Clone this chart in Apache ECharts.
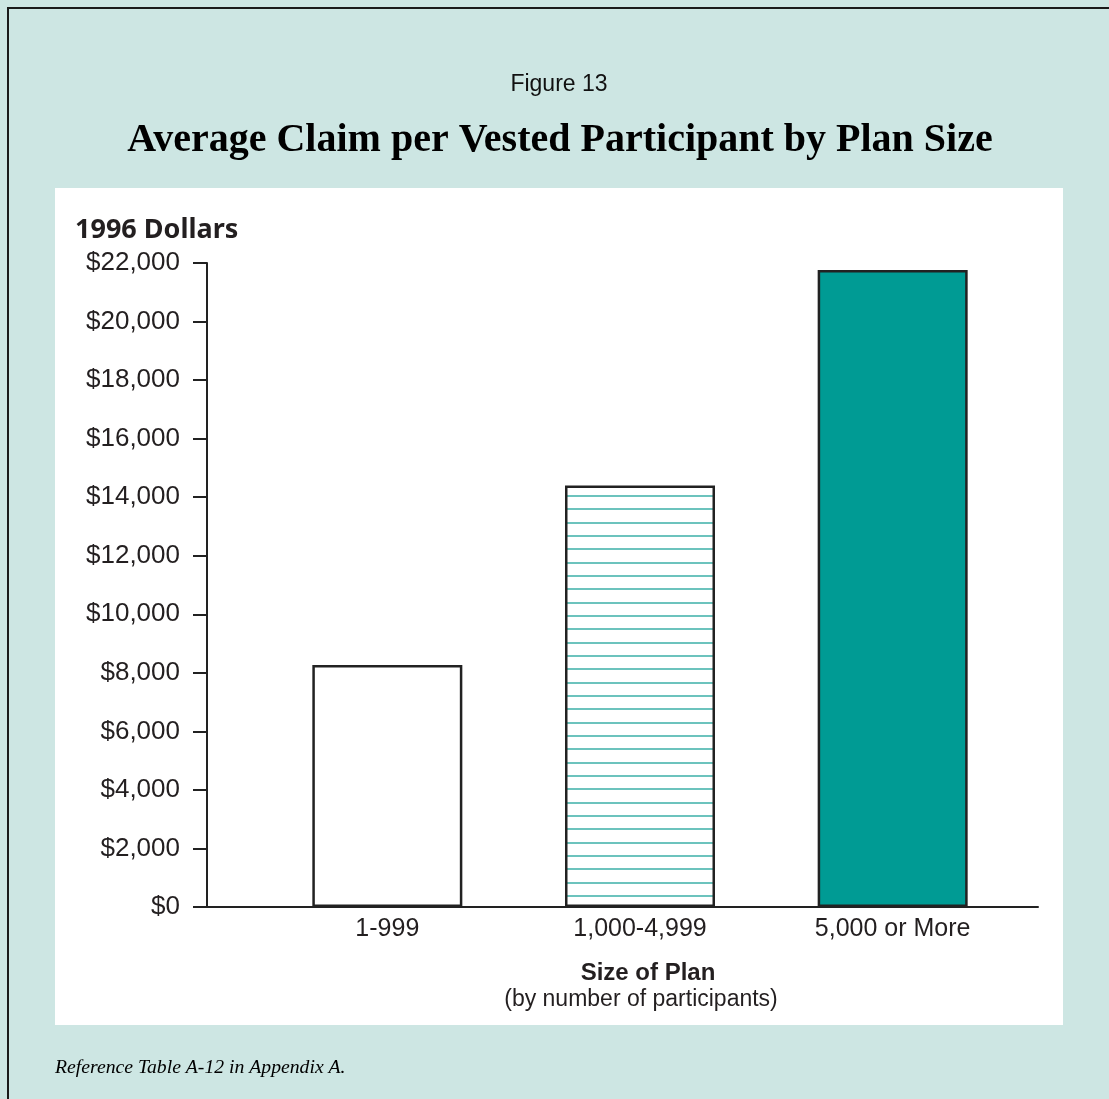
<!DOCTYPE html>
<html>
<head>
<meta charset="utf-8">
<script src="https://cdn.jsdelivr.net/npm/echarts@6/dist/echarts.min.js"></script>
<style>
  html, body { margin: 0; padding: 0; background: #cde6e3; overflow: hidden; }
  #frame { position: absolute; left: 7px; top: 7px; width: 1300px; height: 1300px; border: 2px solid #1a1a1a; box-sizing: border-box; }
  #panel { position: absolute; left: 55px; top: 188px; width: 1008px; height: 837px; background: #ffffff; }
  #chart { position: absolute; left: 0; top: 0; width: 1109px; height: 1099px; }
</style>
</head>
<body>
<div id="frame"></div>
<div id="panel"></div>
<div id="chart"></div>
<script>
// ---- data ----
var categories = ['1-999', '1,000-4,999', '5,000 or More'];
var claimValues = [8270, 14400, 21760];
var yTicks = { min: 0, max: 22000, interval: 2000 };

// hatched pattern for middle bar
var pc = document.createElement('canvas');
pc.width = 8; pc.height = 40;
var pctx = pc.getContext('2d');
pctx.fillStyle = '#ffffff';
pctx.fillRect(0, 0, 8, 40);
pctx.fillStyle = '#6cc3bd';
[2, 15, 28].forEach(function (y) { pctx.fillRect(0, y, 8, 2); });

var fills = ['#ffffff', { image: pc, repeat: 'repeat' }, '#009b94'];

var chart = echarts.init(document.getElementById('chart'), null, { renderer: 'canvas' });
var txt = '#231f20';
var sans = '"Liberation Sans", Arial, sans-serif';

chart.setOption({
  backgroundColor: 'transparent',
  animation: false,
  title: [
    { text: 'Figure 13', left: 559, top: 73, textAlign: 'center', padding: 0,
      textStyle: { fontFamily: sans, fontSize: 23, fontWeight: 'normal', color: '#111' } },
    { text: 'Average Claim per Vested Participant by Plan Size', left: 560, top: 121, textAlign: 'center', padding: 0,
      textStyle: { fontFamily: '"Liberation Serif", "DejaVu Serif", serif', fontSize: 40, fontWeight: 'bold', color: '#000' } },
    { text: '1996 Dollars', left: 75, top: 217, padding: 0,
      textStyle: { fontFamily: '"Noto Sans", sans-serif', fontSize: 27, fontWeight: 'bold', color: txt } },
    { text: 'Size of Plan', left: 648, top: 961, textAlign: 'center', padding: 0,
      textStyle: { fontFamily: sans, fontSize: 24, fontWeight: 'bold', color: txt } },
    { text: '(by number of participants)', left: 641, top: 988, textAlign: 'center', padding: 0,
      textStyle: { fontFamily: sans, fontSize: 23, fontWeight: 'normal', color: txt } },
    { text: 'Reference Table A-12 in Appendix A.', left: 55, top: 1058, padding: 0,
      textStyle: { fontFamily: '"Liberation Serif", serif', fontSize: 19.7, fontStyle: 'italic', fontWeight: 'normal', color: '#000' } }
  ],
  grid: [
    { left: 207, right: 71, top: 263, bottom: 192, containLabel: false },
    { left: 261, right: 90, top: 263, bottom: 192, containLabel: false }
  ],
  xAxis: [
    { type: 'value', gridIndex: 0, min: 0, max: 1,
      axisLine: { show: true, onZero: false, lineStyle: { color: '#222', width: 2 } },
      axisTick: { show: false }, axisLabel: { show: false }, splitLine: { show: false } },
    { type: 'category', gridIndex: 1, data: categories,
      axisLine: { show: false }, axisTick: { show: false }, splitLine: { show: false },
      axisLabel: { margin: 10, fontFamily: sans, fontSize: 25, color: txt } }
  ],
  yAxis: [
    { type: 'value', gridIndex: 0, min: yTicks.min, max: yTicks.max, interval: yTicks.interval,
      axisLine: { show: true, lineStyle: { color: '#222', width: 2 } },
      axisTick: { show: true, length: 14, lineStyle: { color: '#222', width: 2 } },
      splitLine: { show: false },
      axisLabel: { margin: 27, fontFamily: sans, fontSize: 26, color: txt,
        formatter: function (v) { return '$' + v.toLocaleString('en-US'); } } },
    { type: 'value', gridIndex: 1, min: yTicks.min, max: yTicks.max, interval: yTicks.interval, show: false }
  ],
  series: [
    { type: 'bar', xAxisIndex: 1, yAxisIndex: 1, barWidth: 150, z: 3,
      data: claimValues.map(function (v, i) {
        return { value: v, itemStyle: { color: fills[i], borderColor: '#222', borderWidth: 2.5 } };
      }) }
  ]
});
</script>
</body>
</html>
